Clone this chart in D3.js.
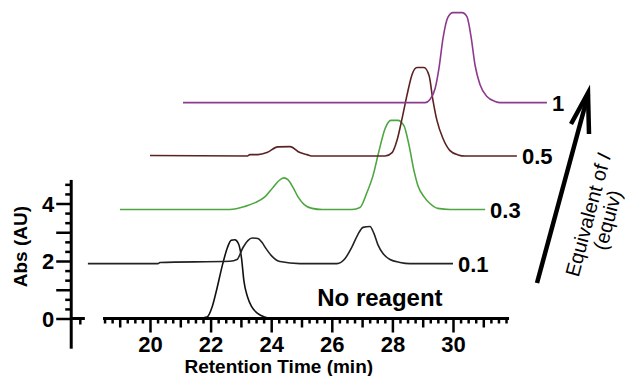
<!DOCTYPE html>
<html lang="en">
<head>
    <meta charset="UTF-8">
    <title>Retention Time Chromatograms</title>
    <style>
        html, body {
            margin: 0;
            padding: 0;
            background-color: #ffffff;
            font-family: 'Liberation Sans', Arial, sans-serif;
        }
        svg text { font-family: 'Liberation Sans', Arial, sans-serif; }
    </style>
</head>
<body>
    <div id="graph"></div>
    <script src="https://d3js.org/d3.v7.min.js"></script>
    <script>
        const width = 626;
        const height = 376;

        // traces: [retention time, abs] as plotted (already offset)
        const noReagent = [
            [21.6, 0], [21.88, 0.05], [22.05, 0.4], [22.2, 1.0], [22.4, 1.9], [22.55, 2.45],
            [22.68, 2.72], [22.8, 2.74], [22.92, 2.6], [23.02, 2.1], [23.1, 1.3],
            [23.22, 0.75], [23.35, 0.42], [23.55, 0.18], [23.78, 0.05], [24.0, 0]
        ];
        const equiv01 = [
            [17.95, 1.91], [20.26, 1.91], [20.33, 1.95], [22.64, 1.99], [22.87, 2.05],
            [23.07, 2.47], [23.23, 2.71], [23.37, 2.8], [23.56, 2.78], [23.7, 2.64],
            [23.83, 2.43], [24.03, 2.16], [24.29, 1.98], [24.95, 1.91], [26.17, 1.91],
            [26.44, 2.09], [26.67, 2.5], [26.86, 2.92], [27.03, 3.17], [27.26, 3.2],
            [27.39, 2.96], [27.52, 2.57], [27.69, 2.26], [27.92, 2.05], [28.25, 1.95],
            [28.58, 1.91], [30.0, 1.91]
        ];
        const equiv03 = [
            [19.01, 3.79], [22.64, 3.79], [23.14, 3.9], [23.47, 4.03], [23.8, 4.24],
            [24.06, 4.56], [24.26, 4.8], [24.42, 4.89], [24.55, 4.83], [24.72, 4.56],
            [24.88, 4.24], [25.08, 3.97], [25.35, 3.83], [25.68, 3.79], [26.67, 3.79],
            [26.93, 3.86], [27.16, 4.38], [27.36, 4.97], [27.56, 5.84], [27.76, 6.61],
            [27.95, 6.89], [28.18, 6.89], [28.38, 6.71], [28.55, 6.02], [28.71, 5.15],
            [28.84, 4.63], [29.04, 4.24], [29.24, 4.0], [29.5, 3.83], [29.9, 3.79],
            [31.06, 3.79]
        ];
        const equiv05 = [
            [20.0, 5.67], [23.2, 5.65], [23.3, 5.7], [23.56, 5.7], [23.86, 5.77],
            [24.22, 5.97], [24.62, 5.98], [24.95, 5.77], [25.18, 5.7], [25.38, 5.65],
            [27.76, 5.65], [27.99, 5.77], [28.15, 6.19], [28.32, 6.96], [28.48, 7.76],
            [28.65, 8.49], [28.81, 8.73], [29.04, 8.73], [29.21, 8.45], [29.34, 7.58],
            [29.47, 6.89], [29.67, 6.26], [29.9, 5.84], [30.17, 5.69], [30.4, 5.65],
            [32.11, 5.65]
        ];
        const equiv1 = [
            [21.09, 7.51], [29.08, 7.51], [29.24, 7.62], [29.41, 8.0], [29.54, 8.73],
            [29.67, 9.74], [29.83, 10.47], [30.0, 10.64], [30.3, 10.64], [30.46, 10.5],
            [30.59, 9.84], [30.73, 8.8], [30.89, 8.14], [31.12, 7.72], [31.39, 7.55],
            [31.55, 7.51], [33.1, 7.51]
        ];

        const traceNames = ["No reagent", "0.1", "0.3", "0.5", "1"];
        const traceData = [noReagent, equiv01, equiv03, equiv05, equiv1];
        const traceColours = ["#111111", "#222222", "#4ea641", "#5b2222", "#8c3a8c"];

        const xLabels = [20, 22, 24, 26, 28, 30];
        const yLabels = [0, 2, 4];

        const x = d3.scaleLinear().domain([20, 30]).range([150, 453]);
        const y = d3.scaleLinear().domain([0, 4]).range([318.5, 203.5]);

        const svg = d3.select("#graph")
            .append("svg")
            .attr("width", width)
            .attr("height", height);

        // TRACES
        const line = d3.line()
            .x(d => x(d[0]))
            .y(d => y(d[1]))
            .curve(d3.curveMonotoneX);

        svg.selectAll("path.trace")
            .data(traceData)
            .enter()
            .append("path")
            .attr("class", "trace")
            .attr("d", line)
            .attr("fill", "none")
            .attr("stroke", (d, i) => traceColours[i])
            .attr("stroke-width", 1.6);

        // TRACE LABELS (at end of each baseline)
        svg.selectAll("text.trace-label")
            .data(traceData.slice(1))
            .enter()
            .append("text")
            .attr("class", "trace-label")
            .attr("x", d => x(d[d.length - 1][0]) + 5)
            .attr("y", d => y(d[d.length - 1][1]) + 8)
            .text((d, i) => traceNames[i + 1])
            .style("font-size", "22px")
            .style("font-weight", "bold");

        svg.append("text")
            .attr("x", x(25.52))
            .attr("y", y(0.45))
            .text(traceNames[0])
            .style("font-size", "24px")
            .style("font-weight", "bold");

        // X AXIS
        const xTicks = d3.range(74, 128).map(k => k / 4);
        const xAxis = svg.append("g")
            .attr("transform", `translate(0,${y(0)})`)
            .call(d3.axisBottom(x)
                .tickValues(xTicks)
                .tickFormat(d => xLabels.includes(d) ? d : ""));
        xAxis.select(".domain").remove();
        xAxis.selectAll(".tick line")
            .attr("y2", d => Number.isInteger(d) ? (d % 2 === 0 ? 14 : 9) : 5)
            .attr("stroke", "#000")
            .attr("stroke-width", 2.5);
        xAxis.selectAll(".tick text")
            .attr("y", 18)
            .style("font-size", "22px")
            .style("font-weight", "bold")
            .attr("fill", "#000");
        xAxis.append("line")
            .attr("x1", x(18.45)).attr("x2", x(31.85))
            .attr("stroke", "#000").attr("stroke-width", 3);

        // small stub of the x axis next to the y axis (axis break)
        svg.append("line")
            .attr("x1", x(17.4)).attr("x2", x(17.85))
            .attr("y1", y(0)).attr("y2", y(0))
            .attr("stroke", "#000").attr("stroke-width", 3);
        svg.append("line")
            .attr("x1", x(17.7)).attr("x2", x(17.7))
            .attr("y1", y(0)).attr("y2", y(0) + 6)
            .attr("stroke", "#000").attr("stroke-width", 2.5);

        svg.append("text")
            .attr("x", x(24.25))
            .attr("y", 373)
            .attr("text-anchor", "middle")
            .text("Retention Time (min)")
            .style("font-size", "19px")
            .style("font-weight", "bold");

        // Y AXIS
        const yTicks = d3.range(0, 15).map(k => k / 3);
        const yAxis = svg.append("g")
            .attr("transform", `translate(${x(17.4)},0)`)
            .call(d3.axisLeft(y)
                .tickValues(yTicks)
                .tickFormat((d, i) => (i % 3 === 0 && yLabels.includes(i / 3)) ? i / 3 : ""));
        yAxis.select(".domain").remove();
        yAxis.selectAll(".tick line")
            .attr("x2", (d, i) => i % 3 === 0 ? -15 : -6)
            .attr("stroke", "#000")
            .attr("stroke-width", 2.5);
        yAxis.selectAll(".tick text")
            .attr("x", -17)
            .attr("dy", "0.36em")
            .style("font-size", "22px")
            .style("font-weight", "bold")
            .attr("fill", "#000");
        yAxis.append("line")
            .attr("y1", y(-1.05)).attr("y2", y(4.82))
            .attr("stroke", "#000").attr("stroke-width", 3);

        svg.append("text")
            .attr("transform", `translate(27,${y(2.5)}) rotate(-90)`)
            .attr("text-anchor", "middle")
            .text("Abs (AU)")
            .style("font-size", "19px")
            .style("font-weight", "bold");

        // ARROW + LABEL
        const arrow = svg.append("g");
        arrow.append("line")
            .attr("x1", 537).attr("y1", 283)
            .attr("x2", 588).attr("y2", 95)
            .attr("stroke", "#000").attr("stroke-width", 4.5);
        arrow.append("path")
            .attr("d", "M571,124 L588,93 L589,134")
            .attr("fill", "none")
            .attr("stroke", "#000")
            .attr("stroke-width", 4.5)
            .attr("stroke-linejoin", "miter");

        const arrowText = svg.append("g")
            .attr("transform", "translate(589,215) rotate(-75)");
        const t1 = arrowText.append("text")
            .attr("text-anchor", "middle")
            .attr("y", 6)
            .style("font-size", "20px");
        t1.append("tspan").text("Equivalent of ");
        t1.append("tspan").text("I").style("font-style", "italic");
        arrowText.append("text")
            .attr("text-anchor", "middle")
            .attr("y", 26)
            .style("font-size", "20px")
            .text("(equiv)");
    </script>
</body>
</html>
